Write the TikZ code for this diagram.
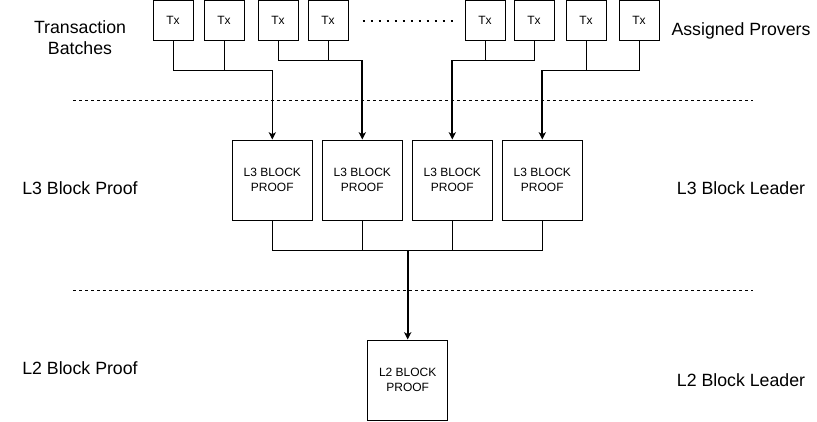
\documentclass[tikz,border=0pt]{standalone}
\usepackage{fontspec}
\setmainfont{Liberation Sans}
\usetikzlibrary{arrows.meta}

\begin{document}
\begin{tikzpicture}[x=0.75pt, y=-0.75pt,
    txbox/.style={draw, line width=0.75pt, minimum size=30pt, inner sep=0pt, font=\fontsize{9}{11}\selectfont},
    proofbox/.style={draw, line width=0.75pt, minimum size=60pt, inner sep=0pt, align=center, font=\fontsize{9}{11.25}\selectfont},
    lbl/.style={align=center, font=\fontsize{13.3}{15.75}\selectfont},
    wire/.style={line width=0.75pt},
    feedthin/.style={line width=0.75pt, -{Stealth[length=5.5pt, width=5.5pt, inset=1.5pt]}},
    feed/.style={line width=1.5pt, -{Stealth[length=5.5pt, width=5.5pt, inset=1.5pt]}},
    divider/.style={line width=0.75pt, dash pattern=on 2.25pt off 2.25pt}]
      \useasboundingbox (0,0) rectangle (817,421);

      % Nodes
      \node[txbox] at (173, 20.5) (tx1) {Tx};
      \node[txbox] at (224, 20.5) (tx2) {Tx};
      \node[txbox] at (278, 20.5) (tx3) {Tx};
      \node[txbox] at (328, 20.5) (tx4) {Tx};
      \node[txbox] at (485, 20.5) (tx5) {Tx};
      \node[txbox] at (534, 20.5) (tx6) {Tx};
      \node[txbox] at (586, 20.5) (tx7) {Tx};
      \node[txbox] at (639, 20.5) (tx8) {Tx};

      \node[proofbox] at (272.3, 180) (l3a) {L3 BLOCK\\PROOF};
      \node[proofbox] at (362.3, 180) (l3b) {L3 BLOCK\\PROOF};
      \node[proofbox] at (452.3, 180) (l3c) {L3 BLOCK\\PROOF};
      \node[proofbox] at (542.3, 180) (l3d) {L3 BLOCK\\PROOF};
      \node[proofbox] at (407.7, 380) (l2) {L2 BLOCK\\PROOF};

      \node[lbl] at (80, 38) (batches) {Transaction\\Batches};
      \node[lbl] at (741, 31) (provers) {Assigned Provers};
      \node[lbl] at (80, 188) (l3proof) {L3 Block Proof};
      \node[lbl] at (741, 188) (l3leader) {L3 Block Leader};
      \node[lbl] at (80, 368) (l2proof) {L2 Block Proof};
      \node[lbl] at (741, 380) (l2leader) {L2 Block Leader};

      % Separators
      \draw[line width=1.5pt, dash pattern=on 1.5pt off 4.5pt] (362.7, 20.7) -- (455, 20.7);
      \draw[divider] (73, 100) -- (753, 100);
      \draw[divider] (73, 290) -- (753, 290);

      % Tx to L3
      \coordinate (row1) at (0, 70);
      \coordinate (row2) at (0, 60);
      \draw[wire] (tx1.south) |- (l3a.north |- row1);
      \draw[wire] (tx2.south) -- (tx2.south |- row1);
      \draw[feedthin] (l3a.north |- row1) -- (l3a.north);

      \draw[wire] (tx3.south) |- (l3b.north |- row2);
      \draw[wire] (tx4.south) -- (tx4.south |- row2);
      \draw[feed] (l3b.north |- row2) -- (l3b.north);

      \draw[wire] (tx6.south) |- (l3c.north |- row2);
      \draw[wire] (tx5.south) -- (tx5.south |- row2);
      \draw[feed] (l3c.north |- row2) -- (l3c.north);

      \draw[wire] (tx8.south) |- (l3d.north |- row1);
      \draw[wire] (tx7.south) -- (tx7.south |- row1);
      \draw[feed] (l3d.north |- row1) -- (l3d.north);

      % L3 to L2
      \coordinate (bus) at (0, 250);
      \draw[wire] (l3a.south) |- (l3d.south |- bus) -- (l3d.south);
      \draw[wire] (l3b.south) -- (l3b.south |- bus);
      \draw[wire] (l3c.south) -- (l3c.south |- bus);
      \draw[feed] (l2.north |- bus) -- (l2.north);
    \end{tikzpicture}
\end{document}
